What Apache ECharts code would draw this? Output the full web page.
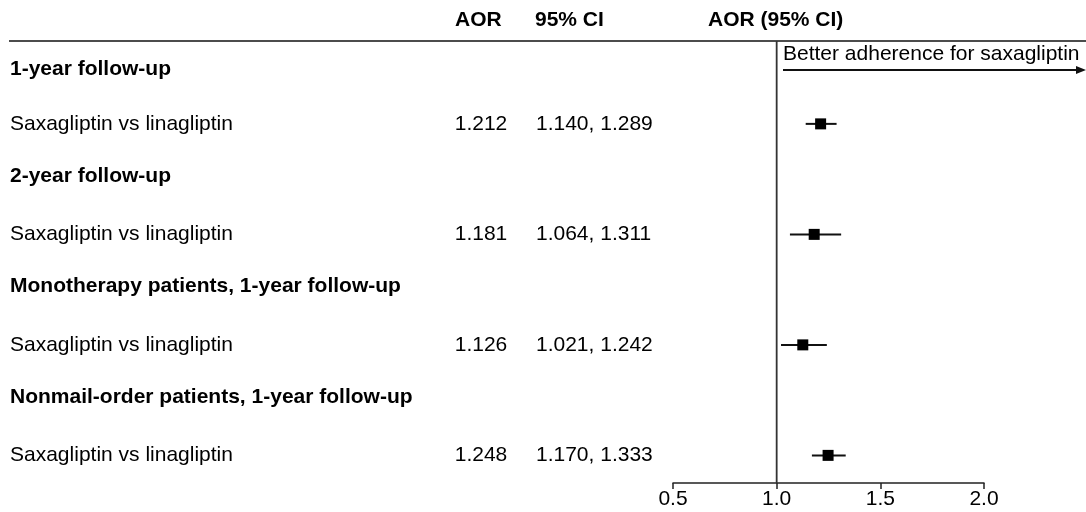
<!DOCTYPE html>
<html>
<head>
<meta charset="utf-8">
<script src="https://cdn.jsdelivr.net/npm/echarts@6/dist/echarts.min.js"></script>
<style>
  html, body { margin: 0; padding: 0; background: #fff; }
  #chart { width: 1086px; height: 512px; }
</style>
</head>
<body>
<div id="chart"></div>
<script>
// ---- Data ----
const groupTitles = [
  '1-year follow-up',
  '2-year follow-up',
  'Monotherapy patients, 1-year follow-up',
  'Nonmail-order patients, 1-year follow-up'
];
const comparisons = [
  'Saxagliptin vs linagliptin',
  'Saxagliptin vs linagliptin',
  'Saxagliptin vs linagliptin',
  'Saxagliptin vs linagliptin'
];
const aor = [1.212, 1.181, 1.126, 1.248];
const ciLow = [1.140, 1.064, 1.021, 1.170];
const ciHigh = [1.289, 1.311, 1.242, 1.333];
const columnHeaders = ['AOR', '95% CI', 'AOR (95% CI)'];
const arrowLabel = 'Better adherence for saxagliptin';
const xMin = 0.5, xMax = 2.0, xStep = 0.5;
const refValue = 1.0;

// ---- Build rows ----
const rowKeys = [];
const rowInfo = [];
groupTitles.forEach(function (t, i) {
  rowKeys.push('h' + i);
  rowInfo.push({ header: true, first: i === 0, text: t });
  rowKeys.push('r' + i);
  rowInfo.push({ header: false, text: comparisons[i], aor: aor[i], lo: ciLow[i], hi: ciHigh[i] });
});
const forestData = aor.map(function (v, i) {
  return [v, 2 * i + 1, ciLow[i], ciHigh[i]];
});

const FONT = '"Liberation Sans", Arial, Helvetica, sans-serif';
const chart = echarts.init(document.getElementById('chart'), null, { renderer: 'canvas' });

const option = {
  backgroundColor: '#ffffff',
  animation: false,
  textStyle: { fontFamily: FONT, color: '#000' },
  grid: { left: 673, right: 102, top: 41, bottom: 29, containLabel: false },
  xAxis: {
    type: 'value',
    min: xMin, max: xMax, interval: xStep,
    axisLine: { show: true, lineStyle: { color: '#222', width: 1.5 } },
    axisTick: { show: true, inside: false, length: 6, lineStyle: { color: '#222', width: 1.5 } },
    axisLabel: {
      fontSize: 21, color: '#000', fontFamily: FONT, margin: 6,
      formatter: function (v) { return v.toFixed(1); }
    },
    splitLine: { show: false }
  },
  yAxis: {
    type: 'category',
    inverse: true,
    data: rowKeys,
    axisLine: { show: false },
    axisTick: { show: false },
    splitLine: { show: false },
    axisLabel: {
      show: true,
      interval: 0,
      margin: 663,
      align: 'left',
      fontFamily: FONT,
      formatter: function (value, index) {
        const r = rowInfo[index];
        if (r.header) return (r.first ? '{h1|' : '{h|') + r.text + '}';
        return '{n|' + r.text + '}{a|' + r.aor.toFixed(3) + '}{c|' +
          r.lo.toFixed(3) + ', ' + r.hi.toFixed(3) + '}';
      },
      rich: {
        h1: { fontSize: 21, fontWeight: 'bold', color: '#000', fontFamily: FONT, padding: [2, 0, 0, 0] },
        h: { fontSize: 21, fontWeight: 'bold', color: '#000', fontFamily: FONT, padding: [0, 0, 6, 0] },
        n: { fontSize: 21, color: '#000', fontFamily: FONT, width: 445 },
        a: { fontSize: 21, color: '#000', fontFamily: FONT, width: 52, align: 'right' },
        c: { fontSize: 21, color: '#000', fontFamily: FONT, padding: [0, 0, 0, 29] }
      }
    }
  },
  graphic: [
    { type: 'line', shape: { x1: 9, y1: 41, x2: 1086, y2: 41 }, style: { stroke: '#111', lineWidth: 1.5 } },
    { type: 'text', left: 455, top: 10, style: { text: columnHeaders[0], font: 'bold 21px ' + FONT, fill: '#000' } },
    { type: 'text', left: 535, top: 10, style: { text: columnHeaders[1], font: 'bold 21px ' + FONT, fill: '#000' } },
    { type: 'text', left: 708, top: 10, style: { text: columnHeaders[2], font: 'bold 21px ' + FONT, fill: '#000' } },
    { type: 'text', left: 783, top: 44, style: { text: arrowLabel, font: '21px ' + FONT, fill: '#000' } },
    { type: 'line', shape: { x1: 783, y1: 70, x2: 1078, y2: 70 }, style: { stroke: '#111', lineWidth: 2 } },
    { type: 'polygon', shape: { points: [[1086, 70], [1076, 66], [1076, 74]] }, style: { fill: '#111' } }
  ],
  series: [
    {
      type: 'custom',
      name: 'ref',
      clip: false,
      silent: true,
      data: [[refValue, 0]],
      encode: { x: 0, y: 1 },
      renderItem: function (params, api) {
        const p = api.coord([api.value(0), 0]);
        const cs = params.coordSys;
        return {
          type: 'line',
          shape: { x1: p[0], y1: cs.y, x2: p[0], y2: cs.y + cs.height },
          style: { stroke: '#333', lineWidth: 1.8 }
        };
      }
    },
    {
      type: 'custom',
      name: 'AOR',
      clip: false,
      data: forestData,
      encode: { x: 0, y: 1 },
      renderItem: function (params, api) {
        const y = api.value(1);
        const pLo = api.coord([api.value(2), y]);
        const pHi = api.coord([api.value(3), y]);
        const pM = api.coord([api.value(0), y]);
        const s = 11;
        return {
          type: 'group',
          children: [
            { type: 'line', shape: { x1: pLo[0], y1: pLo[1], x2: pHi[0], y2: pHi[1] },
              style: { stroke: '#111', lineWidth: 2 } },
            { type: 'rect', shape: { x: pM[0] - s / 2, y: pM[1] - s / 2, width: s, height: s },
              style: { fill: '#000' } }
          ]
        };
      }
    }
  ]
};
chart.setOption(option);
</script>
</body>
</html>
